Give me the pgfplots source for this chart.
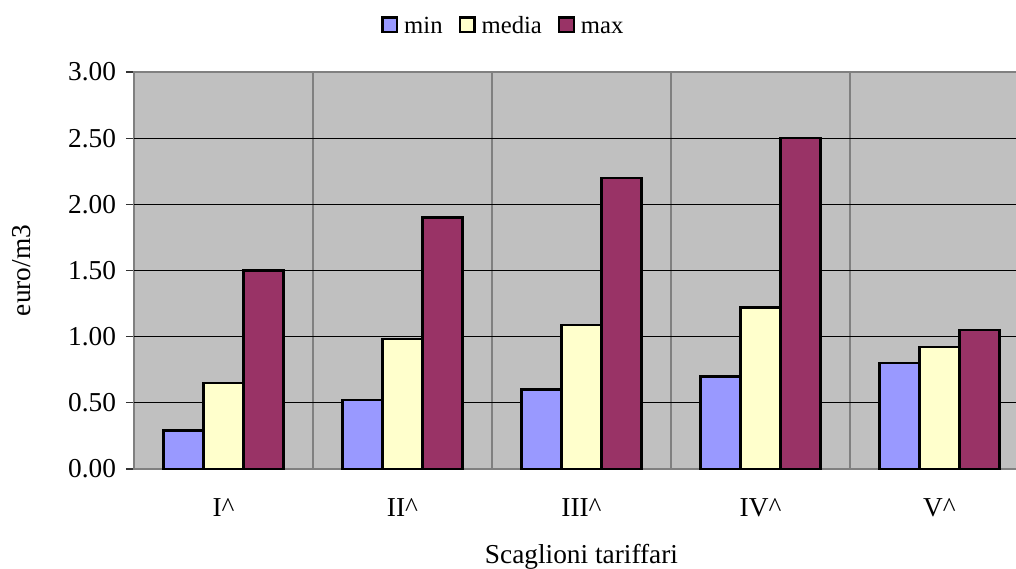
\documentclass[border=0pt]{standalone}
\usepackage{fontspec}
\setmainfont{Liberation Serif}
\usepackage{pgfplots}
\pgfplotsset{compat=1.18}

\definecolor{cmin}{HTML}{9999FF}
\definecolor{cmedia}{HTML}{FFFFCC}
\definecolor{cmax}{HTML}{993366}
\definecolor{plotbg}{HTML}{C0C0C0}
\definecolor{frame}{HTML}{808080}

\begin{document}
\begin{tikzpicture}[font=\fontsize{20.5}{24}\selectfont]
\begin{axis}[
  scale only axis,
  width=671.25pt, height=297.75pt,
  xmin=0.5, xmax=5.5,
  ymin=0, ymax=3,
  ybar=0pt,
  bar width=30pt,
  axis background/.style={fill=plotbg},
  axis line style={draw=frame, line width=1pt},
  xtick={1,2,3,4,5},
  xticklabels={I\textasciicircum, II\textasciicircum, III\textasciicircum, IV\textasciicircum, V\textasciicircum},
  major x tick style={draw=none},
  x tick label style={yshift=-13pt},
  minor xtick={1.5,2.5,3.5,4.5},
  minor tick length=0pt,
  xminorgrids,
  minor grid style={draw=frame, line width=0.8pt},
  ytick={0,0.5,...,3},
  ytick pos=left,
  tick align=outside,
  major tick length=6pt,
  ytick style={draw=black!80, line width=0.8pt},
  yticklabel style={
    /pgf/number format/fixed,
    /pgf/number format/fixed zerofill,
    /pgf/number format/precision=2,
    /pgf/number format/assume math mode=true,
    xshift=-4pt},
  extra y ticks={0.5,1,1.5,2,2.5},
  extra y tick labels={},
  extra y tick style={grid=major, major tick length=0pt, major grid style={draw=black, line width=0.8pt}},
  xlabel={Scaglioni tariffari},
  xlabel style={at={(rel axis cs:0.5,0)}, anchor=center, yshift=-66pt},
  ylabel={euro/m3},
  ylabel style={at={(rel axis cs:0,0.5)}, anchor=center, yshift=84pt},
  legend columns=3,
  legend style={draw=none, fill=none, at={(rel axis cs:0.413,1)}, anchor=center, yshift=34pt,
    font=\fontsize{18.5}{22}\selectfont,
    nodes={text height=1.45ex, text depth=0.2ex, inner xsep=2pt},
    /tikz/every odd column/.append style={column sep=2.5pt},
    /tikz/every even column/.append style={column sep=10pt}},
  legend image code/.code={\draw[#1, draw=black, line width=1.8pt] (0pt,-2.3pt) rectangle (11pt,8.7pt);},
  every axis plot/.append style={draw=black, line width=1.7pt},
]
\addplot[fill=cmin] coordinates {(1,0.29) (2,0.52) (3,0.60) (4,0.70) (5,0.80)};
\addplot[fill=cmedia] coordinates {(1,0.65) (2,0.98) (3,1.09) (4,1.22) (5,0.92)};
\addplot[fill=cmax] coordinates {(1,1.50) (2,1.90) (3,2.20) (4,2.50) (5,1.05)};
\legend{min, media, max}
\end{axis}
\pgfresetboundingbox
\useasboundingbox (-100.5pt,-74.25pt) rectangle (661.5pt,351.75pt);
\end{tikzpicture}
\end{document}
